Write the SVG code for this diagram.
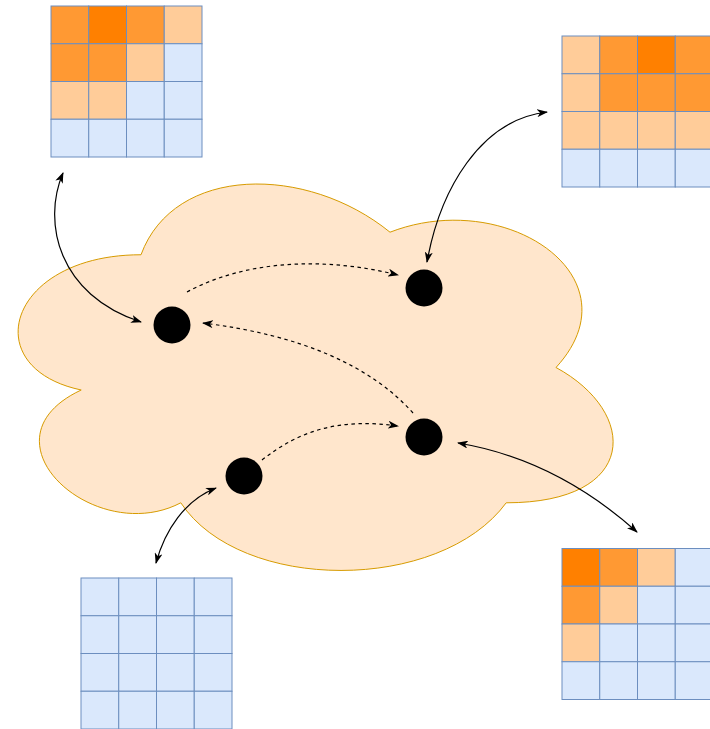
<svg xmlns="http://www.w3.org/2000/svg" width="710" height="729" viewBox="0 0 710 729">
<style>
.b{fill:#dae8fc;stroke:#6c8ebf;stroke-width:1}
.l{fill:#ffcc99;stroke:#6c8ebf;stroke-width:1}
.m{fill:#ff9933;stroke:#6c8ebf;stroke-width:1}
.d{fill:#ff8000;stroke:#6c8ebf;stroke-width:1}
.node{fill:#000}
.c{fill:none;stroke:#000;stroke-width:1.2}
.dash{stroke-dasharray:3.5 3.5}
</style>
<defs>
<marker id="a" viewBox="0 0 11 8" refX="10" refY="4" markerWidth="11" markerHeight="8" markerUnits="userSpaceOnUse" orient="auto-start-reverse">
<path d="M0,0 L11,4 L0,8 L3,4 Z" fill="#000"/>
</marker>
</defs>
<g id="cloud">
<path d="M141,254.75 C8.2,254.75 -25,367.5 81.2,390 C-25,439.7 94.5,547.9 180.8,502.8 C240.6,593 439.8,593 506.2,502.8 C639,502.8 639,412.6 556,367.5 C639,277.3 506.2,187.1 390,232.2 C307,164.6 174.2,164.6 141,254.75 Z" fill="#ffe6cc" stroke="#d79b00" stroke-width="1"/>
</g>
<g id="grid1">
<rect class="m" x="51" y="6" width="37.75" height="37.75"/><rect class="d" x="88.75" y="6" width="37.75" height="37.75"/><rect class="m" x="126.5" y="6" width="37.75" height="37.75"/><rect class="l" x="164.25" y="6" width="37.75" height="37.75"/>
<rect class="m" x="51" y="43.75" width="37.75" height="37.75"/><rect class="m" x="88.75" y="43.75" width="37.75" height="37.75"/><rect class="l" x="126.5" y="43.75" width="37.75" height="37.75"/><rect class="b" x="164.25" y="43.75" width="37.75" height="37.75"/>
<rect class="l" x="51" y="81.5" width="37.75" height="37.75"/><rect class="l" x="88.75" y="81.5" width="37.75" height="37.75"/><rect class="b" x="126.5" y="81.5" width="37.75" height="37.75"/><rect class="b" x="164.25" y="81.5" width="37.75" height="37.75"/>
<rect class="b" x="51" y="119.25" width="37.75" height="37.75"/><rect class="b" x="88.75" y="119.25" width="37.75" height="37.75"/><rect class="b" x="126.5" y="119.25" width="37.75" height="37.75"/><rect class="b" x="164.25" y="119.25" width="37.75" height="37.75"/>
</g>
<g id="grid2">
<rect class="l" x="562" y="36" width="37.75" height="37.75"/><rect class="m" x="599.75" y="36" width="37.75" height="37.75"/><rect class="d" x="637.5" y="36" width="37.75" height="37.75"/><rect class="m" x="675.25" y="36" width="37.75" height="37.75"/>
<rect class="l" x="562" y="73.75" width="37.75" height="37.75"/><rect class="m" x="599.75" y="73.75" width="37.75" height="37.75"/><rect class="m" x="637.5" y="73.75" width="37.75" height="37.75"/><rect class="m" x="675.25" y="73.75" width="37.75" height="37.75"/>
<rect class="l" x="562" y="111.5" width="37.75" height="37.75"/><rect class="l" x="599.75" y="111.5" width="37.75" height="37.75"/><rect class="l" x="637.5" y="111.5" width="37.75" height="37.75"/><rect class="l" x="675.25" y="111.5" width="37.75" height="37.75"/>
<rect class="b" x="562" y="149.25" width="37.75" height="37.75"/><rect class="b" x="599.75" y="149.25" width="37.75" height="37.75"/><rect class="b" x="637.5" y="149.25" width="37.75" height="37.75"/><rect class="b" x="675.25" y="149.25" width="37.75" height="37.75"/>
</g>
<g id="grid3">
<rect class="d" x="562" y="548.5" width="37.75" height="37.75"/><rect class="m" x="599.75" y="548.5" width="37.75" height="37.75"/><rect class="l" x="637.5" y="548.5" width="37.75" height="37.75"/><rect class="b" x="675.25" y="548.5" width="37.75" height="37.75"/>
<rect class="m" x="562" y="586.25" width="37.75" height="37.75"/><rect class="l" x="599.75" y="586.25" width="37.75" height="37.75"/><rect class="b" x="637.5" y="586.25" width="37.75" height="37.75"/><rect class="b" x="675.25" y="586.25" width="37.75" height="37.75"/>
<rect class="l" x="562" y="624" width="37.75" height="37.75"/><rect class="b" x="599.75" y="624" width="37.75" height="37.75"/><rect class="b" x="637.5" y="624" width="37.75" height="37.75"/><rect class="b" x="675.25" y="624" width="37.75" height="37.75"/>
<rect class="b" x="562" y="661.75" width="37.75" height="37.75"/><rect class="b" x="599.75" y="661.75" width="37.75" height="37.75"/><rect class="b" x="637.5" y="661.75" width="37.75" height="37.75"/><rect class="b" x="675.25" y="661.75" width="37.75" height="37.75"/>
</g>
<g id="grid4">
<rect class="b" x="81" y="578" width="37.75" height="37.75"/><rect class="b" x="118.75" y="578" width="37.75" height="37.75"/><rect class="b" x="156.5" y="578" width="37.75" height="37.75"/><rect class="b" x="194.25" y="578" width="37.75" height="37.75"/>
<rect class="b" x="81" y="615.75" width="37.75" height="37.75"/><rect class="b" x="118.75" y="615.75" width="37.75" height="37.75"/><rect class="b" x="156.5" y="615.75" width="37.75" height="37.75"/><rect class="b" x="194.25" y="615.75" width="37.75" height="37.75"/>
<rect class="b" x="81" y="653.5" width="37.75" height="37.75"/><rect class="b" x="118.75" y="653.5" width="37.75" height="37.75"/><rect class="b" x="156.5" y="653.5" width="37.75" height="37.75"/><rect class="b" x="194.25" y="653.5" width="37.75" height="37.75"/>
<rect class="b" x="81" y="691.25" width="37.75" height="37.75"/><rect class="b" x="118.75" y="691.25" width="37.75" height="37.75"/><rect class="b" x="156.5" y="691.25" width="37.75" height="37.75"/><rect class="b" x="194.25" y="691.25" width="37.75" height="37.75"/>
</g>
<g id="n1"><circle class="node" cx="172" cy="325" r="18.5"/></g>
<g id="n2"><circle class="node" cx="424" cy="288" r="18.5"/></g>
<g id="n3"><circle class="node" cx="424" cy="437" r="18.5"/></g>
<g id="n4"><circle class="node" cx="244" cy="476" r="18.5"/></g>
<g id="connectors">
<path class="c" d="M63,173 C42,222 58,295 141,322" marker-start="url(#a)" marker-end="url(#a)"/>
<path class="c" d="M547,112 C480,120 440,190 427,262" marker-start="url(#a)" marker-end="url(#a)"/>
<path class="c" d="M458,443 C530,455 590,490 637,532" marker-start="url(#a)" marker-end="url(#a)"/>
<path class="c" d="M216,488 C185,500 165,530 156,563" marker-start="url(#a)" marker-end="url(#a)"/>
<path class="c dash" d="M187,292 C250,258 330,258 398,275" marker-end="url(#a)"/>
<path class="c dash" d="M413,413 C370,365 300,335 203,323" marker-end="url(#a)"/>
<path class="c dash" d="M262,460 C300,430 340,418 398,426" marker-end="url(#a)"/>
</g>
</svg>
